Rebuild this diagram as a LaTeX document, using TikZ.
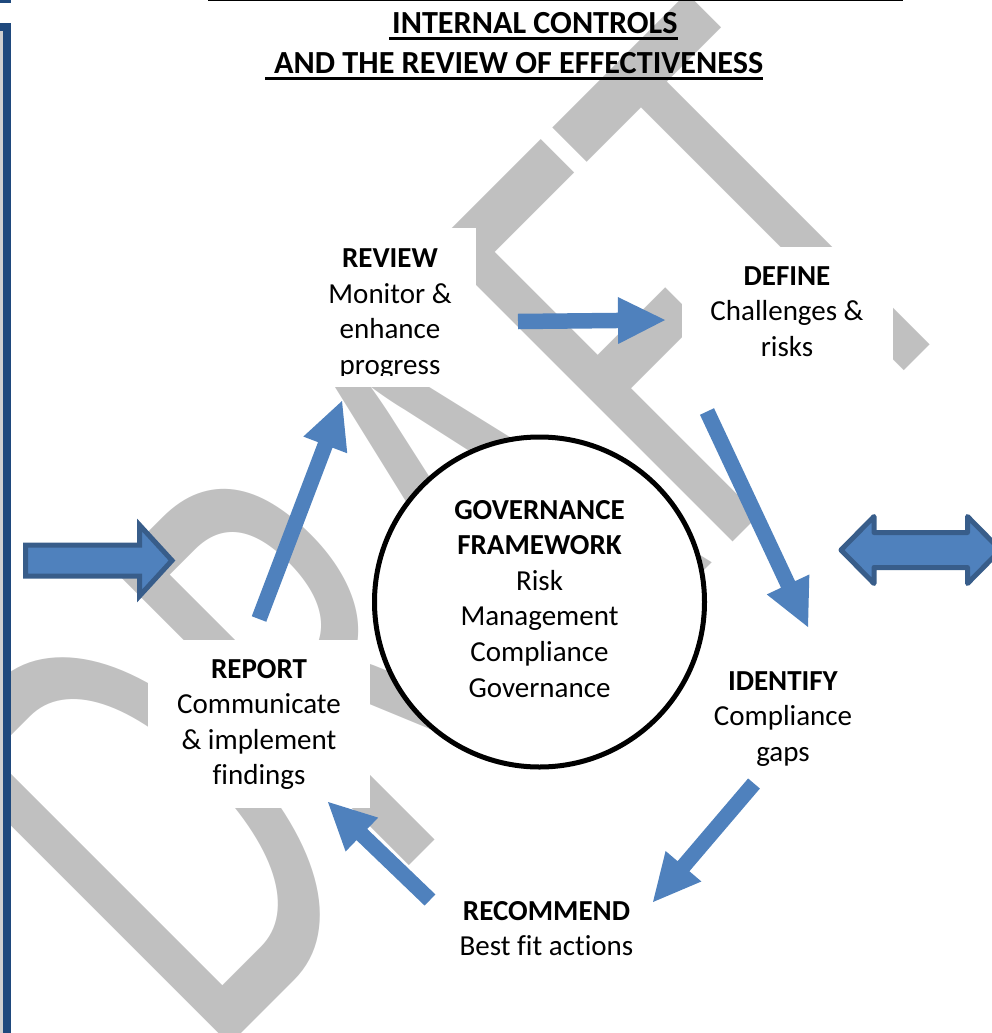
\documentclass[tikz,border=0pt]{standalone}
\usepackage{fontspec}
\usepackage{graphicx}
\setmainfont{Carlito}[Ligatures=CommonOff]
\newfontfamily\wmfont{Carlito}
\usetikzlibrary{calc}
\definecolor{wmgray}{HTML}{C0C0C0}
\definecolor{arrowblue}{HTML}{4F81BD}
\definecolor{arrowline}{HTML}{385D8A}
\definecolor{barblue}{HTML}{1F497D}
\definecolor{barfill}{HTML}{D0D0D0}
\newcommand\lbl[1]{\vtop{\baselineskip=35.6pt\lineskiplimit=-100pt\lineskip=0pt\halign{\hfil##\hfil\cr#1\crcr}}}
% filled block arrow from tail #1 to tip #2 (named coordinates)
\newcommand\flowarrow[2]{%
  \coordinate (#2h) at ($(#2)!47pt!(#1)$);
  \fill[arrowblue] ($(#1)!7.75pt!90:(#2)$) -- ($(#2h)!7.75pt!-90:(#1)$) -- ($(#2h)!23.5pt!-90:(#1)$) -- (#2)
    -- ($(#2h)!23.5pt!90:(#1)$) -- ($(#2h)!7.75pt!90:(#1)$) -- ($(#1)!7.75pt!-90:(#2)$) -- cycle;}
\tikzset{
  mask/.style={fill=white, draw=none, inner sep=0pt, anchor=north west},
  lab/.style={inner sep=0pt, anchor=base, font=\fontsize{29}{35.6}\selectfont},
  ttl/.style={inner sep=0pt, anchor=base west, font=\bfseries\fontsize{32.2}{40}\selectfont},
  bigarrow/.style={draw=arrowline, fill=arrowblue, line width=5pt},
}
\begin{document}
\begin{tikzpicture}[x=1pt, y=-1pt]
\useasboundingbox (0,0) rectangle (992,1033);
% watermark
\node[rotate=45, anchor=base west, inner sep=0pt, text=wmgray, font=\wmfont\fontsize{655}{655}\selectfont] (wm) at (210,1065) {\scalebox{0.626}[1]{DRAFT}};
% left page frame pieces
\draw[draw=barblue, fill=barfill, line width=8pt] (-50,-100) rectangle (7,-1);
\draw[draw=barblue, fill=barfill, line width=8pt] (-50,27) rectangle (7,1100);
% top rule
\draw[line width=2pt] (208,0) -- (903,0);
% title
\node[ttl] (t1) at (392,34) {INTERNAL CONTROLS};
\node[ttl] (t2) at (274,74) {AND THE REVIEW OF EFFECTIVENESS};
\draw[line width=2.7pt] ($(t1.base west)+(-3,4.5)$) -- ($(t1.base east)+(0,4.5)$);
\draw[line width=2.7pt] ($(t2.base west)+(-9,4.5)$) -- ($(t2.base east)+(0,4.5)$);
% white text boxes
\node[mask, minimum width=176pt, minimum height=159pt] (reviewbox) at (300,228) {};
\node[mask, minimum width=211pt, minimum height=138pt] (definebox) at (682,247) {};
\node[mask, minimum width=222pt, minimum height=168pt] (reportbox) at (148,640) {};
\node[mask, minimum width=170pt, minimum height=125pt] (identifybox) at (700,655) {};
\node[mask, minimum width=195pt, minimum height=85pt] (recommendbox) at (450,885) {};
% central circle
\node[circle, draw=black, fill=white, line width=5pt, minimum size=330pt, inner sep=0pt] (gov) at (539.5,602) {};
% labels
\begin{scope}
\clip (300,228) rectangle (476,375);
\node[lab] (review) at (390,267.5) {\lbl{\textbf{REVIEW}\cr Monitor \&\cr enhance\cr progress}};
\end{scope}
\node[lab] (define) at (787,285) {\lbl{\textbf{DEFINE}\cr Challenges \&\cr risks}};
\node[lab] (govtext) at (539.5,519) {\lbl{\textbf{GOVERNANCE}\cr \textbf{FRAMEWORK}\cr Risk\cr Management\cr Compliance\cr Governance}};
\node[lab] (identify) at (783,690) {\lbl{\textbf{IDENTIFY}\cr Compliance\cr gaps}};
\node[lab] (recommend) at (546.5,920) {\lbl{\textbf{RECOMMEND}\cr Best fit actions}};
\node[lab] (report) at (259,678) {\lbl{\textbf{REPORT}\cr Communicate\cr \& implement\cr findings}};
% cycle arrows
\coordinate (a1t) at (518,321.5); \coordinate (a1p) at (665,320);
\coordinate (a2t) at (707,411.5); \coordinate (a2p) at (808,627);
\coordinate (a3t) at (754,783.5); \coordinate (a3p) at (653,902);
\coordinate (a4t) at (430,900);   \coordinate (a4p) at (328,802);
\coordinate (a5t) at (259,619);   \coordinate (a5p) at (342,401);
\flowarrow{a1t}{a1p}
\flowarrow{a2t}{a2p}
\flowarrow{a3t}{a3p}
\flowarrow{a4t}{a4p}
\flowarrow{a5t}{a5p}
% big outlined arrows
\draw[bigarrow, line join=miter] (25.5,545) -- (139.5,545) -- (139.5,525) -- (172,560.5) -- (139.5,596) -- (139.5,576) -- (25.5,576) -- cycle;
\draw[bigarrow, line join=round] (841,550) -- (874,516.5) -- (874,532.5) -- (967.5,532.5) -- (967.5,516.5) -- (1000.5,550) -- (967.5,583.5) -- (967.5,567.5) -- (874,567.5) -- (874,583.5) -- cycle;
\end{tikzpicture}
\end{document}
